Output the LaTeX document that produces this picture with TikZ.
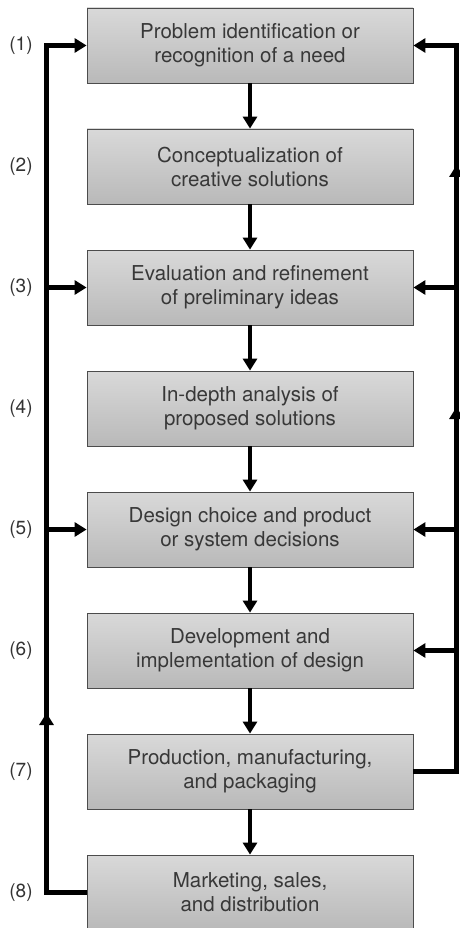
\documentclass[tikz,border=0pt]{standalone}
\usepackage{fontspec}
\setmainfont{TeX Gyre Heros}
\usetikzlibrary{arrows.meta}
\begin{document}
\begin{tikzpicture}[x=1pt,y=1pt,
  box/.style={draw=gray!60!black, line width=0.8pt, top color=gray!30, bottom color=gray!55,
    minimum width=326pt, minimum height=75pt, align=center, text=black!78,
    font=\fontsize{20.5}{24}\selectfont, inner sep=0pt},
  lbl/.style={text=black!80, font=\fontsize{19}{22}\selectfont, inner sep=0pt},
  flow/.style={line width=4.2pt, line join=miter, -{Triangle[width=14pt,length=12pt]}},
  fb/.style={line width=4.2pt, line join=miter}]
\useasboundingbox (0,0) rectangle (459,-928);
% boxes
\node[box] (b1) at (250,-45.5) {Problem identification or\\recognition of a need};
\node[box] (b2) at (250,-166.5) {Conceptualization of\\creative solutions};
\node[box] (b3) at (250,-287.5) {Evaluation and refinement\\of preliminary ideas};
\node[box] (b4) at (250,-408.5) {In-depth analysis of\\proposed solutions};
\node[box] (b5) at (250,-529.5) {Design choice and product\\or system decisions};
\node[box] (b6) at (250,-650.5) {Development and\\implementation of design};
\node[box] (b7) at (250,-771.5) {Production, manufacturing,\\and packaging};
\node[box] (b8) at (250,-892.5) {Marketing, sales,\\and distribution};
% labels
\node[lbl] (n1) at (21,-45.5) {(1)};
\node[lbl] (n2) at (21,-166.5) {(2)};
\node[lbl] (n3) at (21,-287.5) {(3)};
\node[lbl] (n4) at (21,-408.5) {(4)};
\node[lbl] (n5) at (21,-529.5) {(5)};
\node[lbl] (n6) at (21,-650.5) {(6)};
\node[lbl] (n7) at (21,-771.5) {(7)};
\node[lbl] (n8) at (21,-892.5) {(8)};
% down arrows
\draw[flow] (b1.south) -- (b2.north);
\draw[flow] (b2.south) -- (b3.north);
\draw[flow] (b3.south) -- (b4.north);
\draw[flow] (b4.south) -- (b5.north);
\draw[flow] (b5.south) -- (b6.north);
\draw[flow] (b6.south) -- (b7.north);
\draw[flow] (b7.south) -- (b8.north);
% left feedback
\coordinate (L1) at (46.5,-45.5);
\coordinate (L3) at (46.5,-287.5);
\coordinate (L5) at (46.5,-529.5);
\coordinate (Lup) at (46.5,-713);
\coordinate (L8) at (46.5,-892.5);
\draw[flow] (b8.west) -- (L8) -- (L1) -- (b1.west);
\draw[flow] (L8) -- (Lup);
\draw[flow] (L3) -- (b3.west);
\draw[flow] (L5) -- (b5.west);
% right feedback
\coordinate (R1) at (456.5,-45.5);
\coordinate (R3) at (456.5,-287.5);
\coordinate (R5) at (456.5,-529.5);
\coordinate (R6) at (456.5,-650.5);
\coordinate (R7) at (456.5,-771.5);
\coordinate (Rup1) at (456.5,-165);
\coordinate (Rup2) at (456.5,-407);
\draw[flow] (b7.east) -- (R7) -- (R1) -- (b1.east);
\draw[flow] (R3) -- (Rup1);
\draw[flow] (R5) -- (Rup2);
\draw[flow] (R3) -- (b3.east);
\draw[flow] (R5) -- (b5.east);
\draw[flow] (R6) -- (b6.east);
\end{tikzpicture}
\end{document}
